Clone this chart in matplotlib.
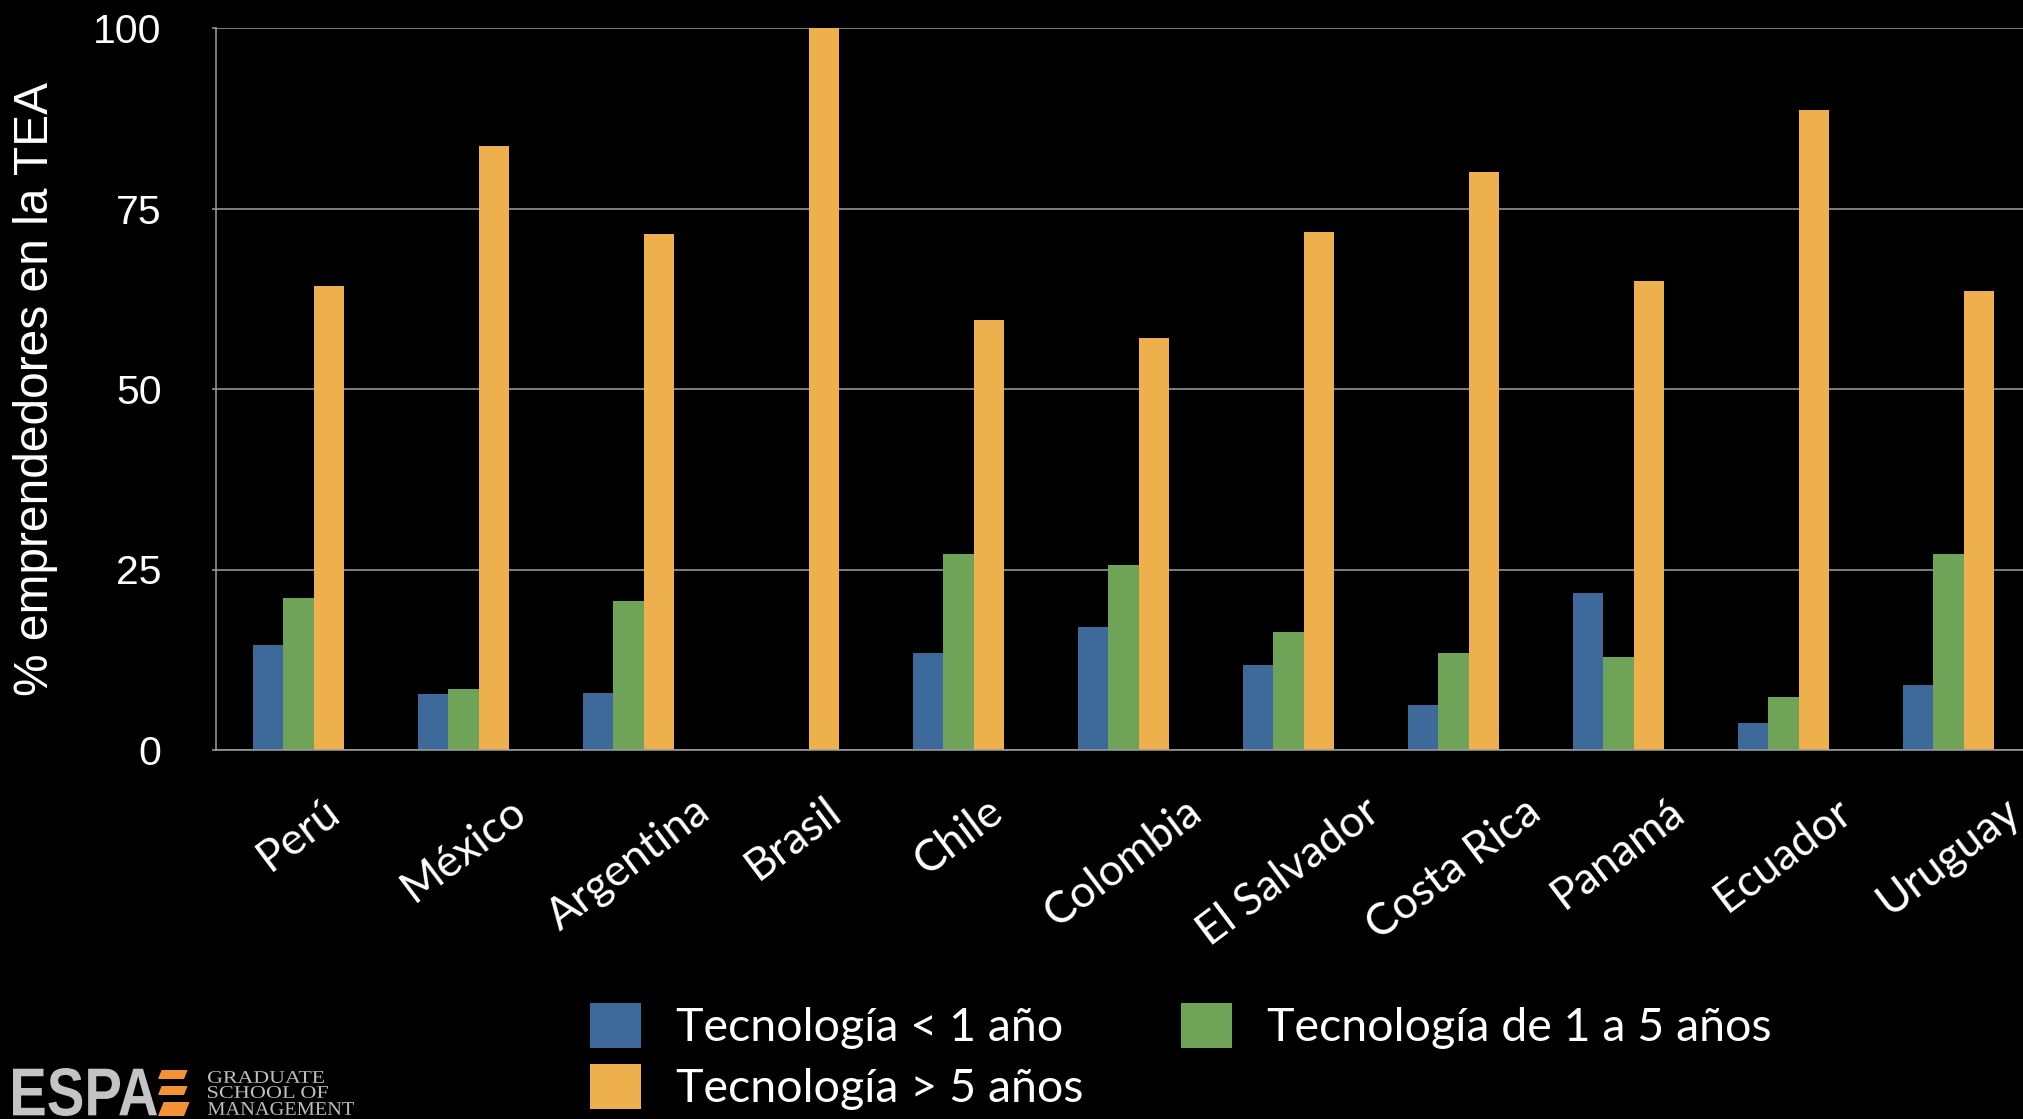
import numpy as np
import matplotlib.pyplot as plt
from matplotlib.patches import Polygon, PathPatch
from matplotlib.textpath import TextPath
from matplotlib.font_manager import FontProperties
from matplotlib.transforms import Affine2D

paises = ["Perú", "México", "Argentina", "Brasil", "Chile", "Colombia",
          "El Salvador", "Costa Rica", "Panamá", "Ecuador", "Uruguay"]
tec_menos_1 = [14.5, 7.7, 7.9, 0.0, 13.4, 17.1, 11.8, 6.3, 21.8, 3.7, 9.0]
tec_1_a_5 = [21.0, 8.4, 20.6, 0.0, 27.1, 25.6, 16.3, 13.5, 12.9, 7.3, 27.1]
tec_mas_5 = [64.2, 83.7, 71.4, 100.0, 59.5, 57.0, 71.7, 80.0, 65.0, 88.7, 63.6]
series = ["Tecnología < 1 año", "Tecnología de 1 a 5 años", "Tecnología > 5 años"]
colores = ["#3D6A9B", "#6FA458", "#EDB04C"]
yticks = [0, 25, 50, 75, 100]

W, H = 2023, 1119
fig = plt.figure(figsize=(W / 100, H / 100), dpi=100, facecolor="black")
ax = fig.add_axes([216 / W, 369 / H, 1815 / W, 722 / H])
ax.set_facecolor("black")

x = np.arange(len(paises))
w = 0.184
b1 = ax.bar(x - w, tec_menos_1, w, color=colores[0], zorder=3)
b2 = ax.bar(x, tec_1_a_5, w, color=colores[1], zorder=3)
b3 = ax.bar(x + w, tec_mas_5, w, color=colores[2], zorder=3)

ax.set_xlim(-0.5, len(paises) - 0.5)
ax.set_ylim(0, 100)
ax.set_yticks(yticks)
ax.yaxis.grid(True, color="#A0A0A0", linewidth=1.1, zorder=0)
for s in ["top", "right"]:
    ax.spines[s].set_visible(False)
for s in ["left", "bottom"]:
    ax.spines[s].set_color("#A0A0A0")
    ax.spines[s].set_linewidth(1.1)
    ax.spines[s].set_zorder(4)

ax.tick_params(axis="y", colors="#A0A0A0", length=3.2, width=1.1, pad=36,
               labelcolor="white", labelsize=29.5)
for t in ax.get_yticklabels():
    t.set_fontfamily("Liberation Sans")
ax.set_xticks(x)
ax.set_xticklabels(paises, rotation=37, ha="center", va="top",
                   fontsize=32, color="white", fontfamily="Lato")
ax.tick_params(axis="x", length=0, pad=29)

fig.text(36 / W, 1 - 389 / H, "% emprendedores en la TEA", rotation=90,
         ha="center", va="center", color="white", fontsize=34.5,
         fontfamily="Liberation Sans")

leg = fig.legend([b1, b3, b2], [series[0], series[2], series[1]], ncol=2,
                 loc="upper left", bbox_to_anchor=(590 / W, 1 - 1003 / H),
                 frameon=False, prop={"family": "Lato", "size": 33.5},
                 handlelength=1.1, handleheight=1.1, handletextpad=0.75,
                 columnspacing=2.1, labelspacing=0.32, borderpad=0, borderaxespad=0)
for t in leg.get_texts():
    t.set_color("white")


# logo: texto ajustado a una caja (pixeles desde arriba-izquierda)
def texto_en_caja(s, x0, x1, ytop, ybot, color, family, weight="normal"):
    p = TextPath((0, 0), s, size=50, prop=FontProperties(family=family, weight=weight))
    e = p.get_extents()
    sx = (x1 - x0) / e.width
    sy = (ybot - ytop) / e.height
    tr = (Affine2D().translate(-e.x0, -e.y0).scale(sx, sy)
          .translate(x0, H - ybot).scale(1 / W, 1 / H) + fig.transFigure)
    fig.patches.append(PathPatch(p, transform=tr, facecolor=color, edgecolor="none"))


texto_en_caja("ESPA", 13, 157, 1068, 1116, "#C4C4C4", "Liberation Sans", "bold")
for y0, y1 in [(1070, 1079), (1086, 1095), (1102, 1116)]:
    sl = 0.4 * (y1 - y0)
    pts = [(158, y1), (184, y1), (184 + sl, y0), (158 + sl, y0)]
    pts = [(px / W, 1 - py / H) for px, py in pts]
    fig.patches.append(Polygon(pts, closed=True, transform=fig.transFigure,
                               facecolor="#F39234", edgecolor="none"))
texto_en_caja("GRADUATE", 208, 324, 1071, 1083, "#BEBEBE", "Liberation Serif")
texto_en_caja("SCHOOL OF", 208, 328, 1086, 1098, "#BEBEBE", "Liberation Serif")
texto_en_caja("MANAGEMENT", 208, 354, 1102, 1115, "#BEBEBE", "Liberation Serif")

fig.savefig("out.png", facecolor="black")
